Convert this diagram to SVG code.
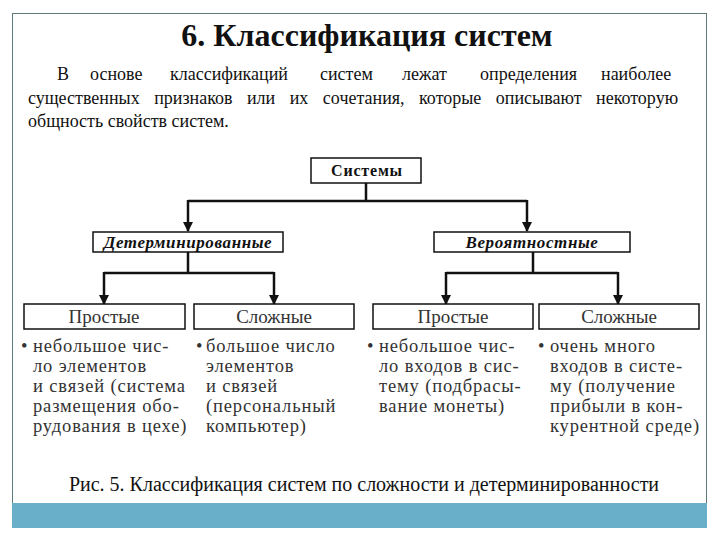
<svg xmlns="http://www.w3.org/2000/svg" width="720" height="540" viewBox="0 0 720 540">
<defs>
<style>
text{font-family:"Liberation Serif","Tinos","Noto Serif","Times New Roman","DejaVu Serif",serif;fill:#111}
.box{fill:#fff;stroke:#111;stroke-width:1.5}
.conn{fill:none;stroke:#111;stroke-width:2.5}
.bul text{font-size:18.5px;letter-spacing:0.85px;fill:#333}
.hd{font-size:19px;fill:#333}
.lv2{font-size:17px;font-style:italic;font-weight:bold;letter-spacing:0.6px}
</style>
<marker id="arr" viewBox="0 0 10 10" refX="9" refY="5" markerWidth="4" markerHeight="5" orient="auto" markerUnits="strokeWidth">
<path d="M0,0 L10,5 L0,10 z" fill="#111"/>
</marker>
</defs>
<rect x="0" y="0" width="720" height="540" fill="#fff"/>
<rect x="12.5" y="13.5" width="694" height="514" fill="#fff" stroke="#5d7b7b" stroke-width="1"/>
<rect x="12" y="503" width="695" height="25" fill="#6aafc9"/>

<text x="367" y="46" text-anchor="middle" font-size="32" font-weight="bold">6. Классификация систем</text>

<g>
<text y="80" font-size="18"><tspan x="57">В</tspan><tspan x="90">основе</tspan><tspan x="170">классификаций</tspan><tspan x="320">систем</tspan><tspan x="402">лежат</tspan><tspan x="480">определения</tspan><tspan x="601">наиболее</tspan></text>
<text x="28" y="104" font-size="18" word-spacing="10">существенных признаков или их сочетания, которые описывают некоторую</text>
<text x="28" y="127" font-size="18">общность свойств систем.</text>
</g>

<g id="connectors">
<path class="conn" d="M366,183 V201 M188,201 H527"/>
<path class="conn" d="M188,200 V231" marker-end="url(#arr)"/>
<path class="conn" d="M527,200 V231" marker-end="url(#arr)"/>
<path class="conn" d="M188,252 V273 M104,273 H274"/>
<path class="conn" d="M104,272 V304" marker-end="url(#arr)"/>
<path class="conn" d="M274,272 V304" marker-end="url(#arr)"/>
<path class="conn" d="M533,252 V273 M446,273 H618"/>
<path class="conn" d="M446,272 V304" marker-end="url(#arr)"/>
<path class="conn" d="M618,272 V304" marker-end="url(#arr)"/>
</g>

<g id="node-systems">
<rect class="box" x="311" y="158" width="110" height="25"/>
<text x="367" y="176" text-anchor="middle" font-size="16" font-weight="bold" letter-spacing="0.8">Системы</text>
</g>
<g id="node-determ">
<rect class="box" x="93" y="232" width="190" height="20"/>
<text class="lv2" x="188" y="248" text-anchor="middle">Детерминированные</text>
</g>
<g id="node-prob">
<rect class="box" x="434" y="232" width="196" height="20"/>
<text class="lv2" x="532" y="248" text-anchor="middle">Вероятностные</text>
</g>

<g id="node-simple1">
<rect class="box" x="24" y="304" width="161" height="25"/>
<text class="hd" x="104" y="323" text-anchor="middle">Простые</text>
<g class="bul">
<text x="21" y="352">•</text>
<text x="33" y="352">небольшое чис-</text>
<text x="33" y="372">ло элементов</text>
<text x="33" y="392">и связей (система</text>
<text x="33" y="412">размещения обо-</text>
<text x="33" y="432">рудования в цехе)</text>
</g>
</g>
<g id="node-complex1">
<rect class="box" x="194" y="304" width="160" height="25"/>
<text class="hd" x="274" y="323" text-anchor="middle">Сложные</text>
<g class="bul">
<text x="196" y="352">•</text>
<text x="206" y="352">большое число</text>
<text x="206" y="372">элементов</text>
<text x="206" y="392">и связей</text>
<text x="206" y="412">(персональный</text>
<text x="206" y="432">компьютер)</text>
</g>
</g>
<g id="node-simple2">
<rect class="box" x="373" y="304" width="160" height="25"/>
<text class="hd" x="453" y="323" text-anchor="middle">Простые</text>
<g class="bul">
<text x="367" y="352">•</text>
<text x="379" y="352">небольшое чис-</text>
<text x="379" y="372">ло входов в сис-</text>
<text x="379" y="392">тему (подбрасы-</text>
<text x="379" y="412">вание монеты)</text>
</g>
</g>
<g id="node-complex2">
<rect class="box" x="539" y="304" width="160" height="25"/>
<text class="hd" x="619" y="323" text-anchor="middle">Сложные</text>
<g class="bul">
<text x="538" y="352">•</text>
<text x="550" y="352">очень много</text>
<text x="550" y="372">входов в систе-</text>
<text x="550" y="392">му (получение</text>
<text x="550" y="412">прибыли в кон-</text>
<text x="550" y="432">курентной среде)</text>
</g>
</g>

<text x="364" y="491" text-anchor="middle" font-size="20">Рис. 5. Классификация систем по сложности и детерминированности</text>
</svg>
